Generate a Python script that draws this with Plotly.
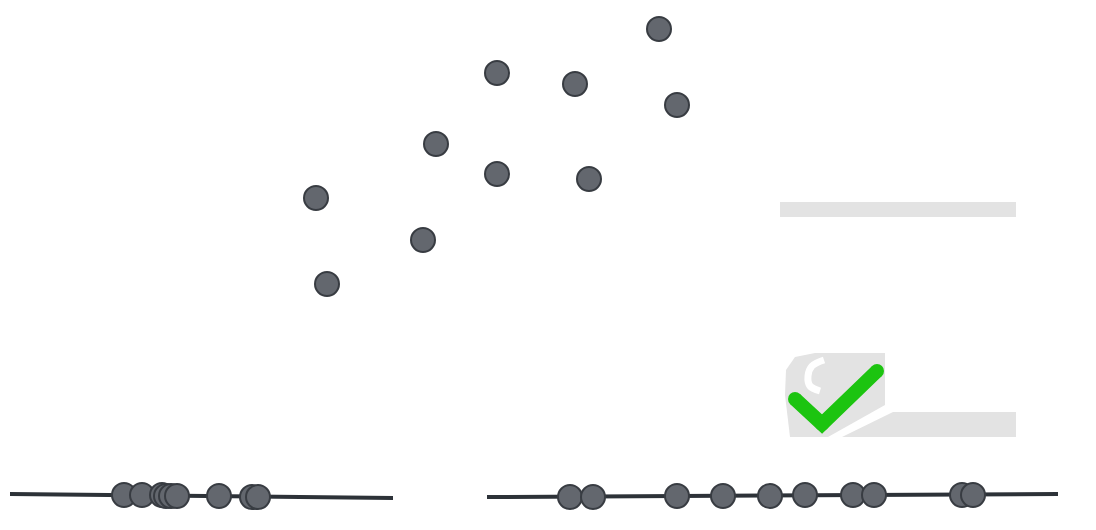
import plotly.graph_objects as go

# --- data (pixel-space units) ---
scatter_x = [316, 327, 423, 436, 497, 497, 575, 589, 659, 677]
scatter_y = [198, 284, 240, 144, 73, 174, 84, 179, 29, 105]

left_line_x = [10, 393]
left_line_y = [494, 498]
left_proj_x = [124, 142, 162, 166, 171, 177, 219, 252, 258]
left_proj_y = [495, 495, 495, 496, 496, 496, 496, 497, 497]

right_line_x = [487, 1058]
right_line_y = [497, 494]
right_proj_x = [570, 593, 677, 723, 770, 805, 853, 874, 962, 973]
right_proj_y = [497, 497, 496, 496, 496, 495, 495, 495, 495, 495]

top_bar_x = [780, 1016, 1016, 780]
top_bar_y = [202, 202, 217, 217]
bottom_bar_x = [893, 1016, 1016, 842]
bottom_bar_y = [412, 412, 437, 437]
blob_x = [790, 785, 786, 795, 815, 885, 885, 828]
blob_y = [437, 395, 370, 357, 353, 353, 405, 437]
notch_x = [824, 812, 808, 810, 820]
notch_y = [360, 366, 376, 386, 391]
check_x = [795, 822, 877]
check_y = [399, 424, 371]

PT_FILL = "#63676e"
PT_EDGE = "#383c42"
LINE_C = "#2d3238"
GRAY = "#e3e3e3"
GREEN = "#1cc410"

fig = go.Figure()

def poly(xs, ys, color):
    fig.add_trace(go.Scatter(x=xs + [xs[0]], y=ys + [ys[0]], mode="lines",
                             fill="toself", fillcolor=color,
                             line=dict(width=0, color=color),
                             hoverinfo="skip", showlegend=False))

poly(top_bar_x, top_bar_y, GRAY)
poly(bottom_bar_x, bottom_bar_y, GRAY)
poly(blob_x, blob_y, GRAY)

# white notch
fig.add_trace(go.Scatter(x=notch_x, y=notch_y, mode="lines",
                         line=dict(width=7, color="white", shape="spline"),
                         hoverinfo="skip", showlegend=False))

# checkmark
fig.add_trace(go.Scatter(x=check_x, y=check_y, mode="lines+markers",
                         line=dict(width=14, color=GREEN),
                         marker=dict(size=14, color=GREEN, line=dict(width=0)),
                         hoverinfo="skip", showlegend=False))

# projection lines
for lx, ly in [(left_line_x, left_line_y), (right_line_x, right_line_y)]:
    fig.add_trace(go.Scatter(x=lx, y=ly, mode="lines",
                             line=dict(width=4, color=LINE_C),
                             hoverinfo="skip", showlegend=False))

marker = dict(size=24, color=PT_FILL, line=dict(width=2, color=PT_EDGE))
for px, py in [(left_proj_x, left_proj_y), (right_proj_x, right_proj_y)]:
    fig.add_trace(go.Scatter(x=px, y=py, mode="markers", marker=marker,
                             showlegend=False))
fig.add_trace(go.Scatter(x=scatter_x, y=scatter_y, mode="markers",
                         marker=marker, showlegend=False))

fig.update_layout(
    width=1096, height=530,
    margin=dict(l=0, r=0, t=0, b=0),
    paper_bgcolor="white", plot_bgcolor="white",
    xaxis=dict(range=[0, 1096], visible=False, fixedrange=True),
    yaxis=dict(range=[530, 0], visible=False, fixedrange=True),
    showlegend=False,
)

fig.write_html(
    "out.html",
    config={"displayModeBar": False},
    post_script="document.body.style.margin='0';document.body.style.overflow='hidden';",
)
